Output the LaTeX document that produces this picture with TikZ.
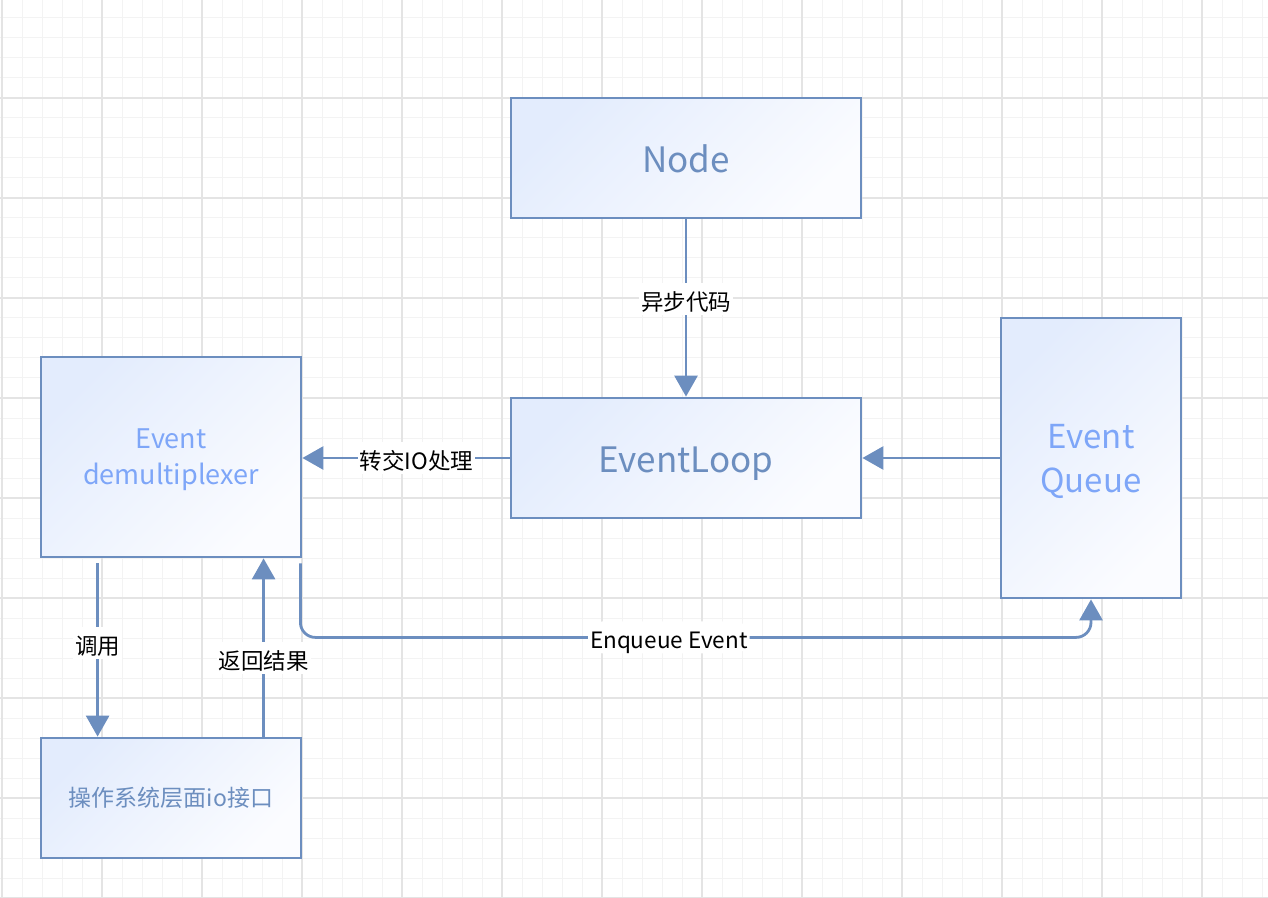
\documentclass[tikz,border=0pt]{standalone}
\usepackage{fontspec}
\setmainfont{Noto Sans CJK SC}
\usetikzlibrary{arrows.meta}
\definecolor{edgeblue}{HTML}{6C8EBF}
\definecolor{textblue}{HTML}{7EA6F8}
\definecolor{fillblue}{HTML}{E3ECFD}
\definecolor{fillwhite}{HTML}{FBFCFF}
\definecolor{gridmajor}{HTML}{E4E4E4}
\definecolor{gridminor}{HTML}{F3F3F3}

\begin{document}
\begin{tikzpicture}[x=0.5pt, y=-0.5pt,
        box/.style={draw=edgeblue, line width=1.4pt, top color=fillblue, bottom color=fillwhite, shading angle=45, inner sep=0pt, align=center},
        flow/.style={-{Triangle[length=10.5pt, width=11.5pt]}, draw=edgeblue, line width=1.4pt},
        lbl/.style={fill=white, text=black, inner xsep=1pt, inner ysep=2.5pt, text height=11pt, text depth=0pt, font=\fontsize{11.25}{13}\selectfont}]
        
        \useasboundingbox (0, 0) rectangle (1268, 898);
        
        % Griglia
        \foreach \gx in {22, 42, ..., 1262} \draw[gridminor, line width=0.5pt] (\gx, 0) -- (\gx, 898);
        \foreach \gy in {18, 38, ..., 898} \draw[gridminor, line width=0.5pt] (0, \gy) -- (1268, \gy);
        \foreach \gx in {2, 102, ..., 1202} \draw[gridmajor, line width=0.75pt] (\gx, 0) -- (\gx, 898);
        \foreach \gy in {98, 198, ..., 898} \draw[gridmajor, line width=0.75pt] (0, \gy) -- (1268, \gy);
        
        % Blocchi
        \node[box, minimum width=175pt, minimum height=60pt, text=edgeblue, text height=14.8pt, text depth=0pt, font=\fontsize{17.5}{20}\selectfont] (node) at (686, 158) {Node};
        \node[box, minimum width=175pt, minimum height=60pt, text=edgeblue, text height=14.8pt, text depth=0pt, font=\fontsize{17.5}{20}\selectfont] (loop) at (686, 458) {EventLoop};
        \node[box, minimum width=130pt, minimum height=100pt, text=textblue, text depth=0pt, font=\fontsize{13.5}{18}\selectfont] (demux) at (171, 457) {Event\\demultiplexer};
        \node[box, minimum width=90pt, minimum height=140pt, text=textblue, text depth=-1pt, font=\fontsize{16.5}{22}\selectfont] (queue) at (1091, 458) {Event\\Queue};
        \node[box, minimum width=130pt, minimum height=60pt, text=edgeblue, font=\fontsize{11.5}{14}\selectfont] (os) at (171, 798) {操作系统层面io接口};
        
        % Frecce principali
        \draw[flow] (node) -- node[lbl, pos=0.45] {异步代码} (loop);
        \draw[flow] (loop.west) -- node[lbl, pos=0.45] {转交IO处理} (loop.west -| demux.east);
        \draw[flow] (queue.west) -- (loop.east);
        
        % Chiamata e ritorno
        \draw[flow] ([xshift=29pt, yshift=-2.5pt]demux.south west) -- node[lbl, pos=0.46] {调用} ([xshift=29pt]os.north west);
        \draw[flow] ([xshift=112pt]os.north west) -- node[lbl, pos=0.44] {返回结果} ([xshift=112pt]demux.south west);
        
        % Enqueue
        \draw[flow, rounded corners=7.5pt] ([xshift=-1pt, yshift=-2.5pt]demux.south east) -- ++(0, 74) -| node[lbl, pos=0.233] {Enqueue Event} (queue.south);
        
    \end{tikzpicture}
\end{document}
